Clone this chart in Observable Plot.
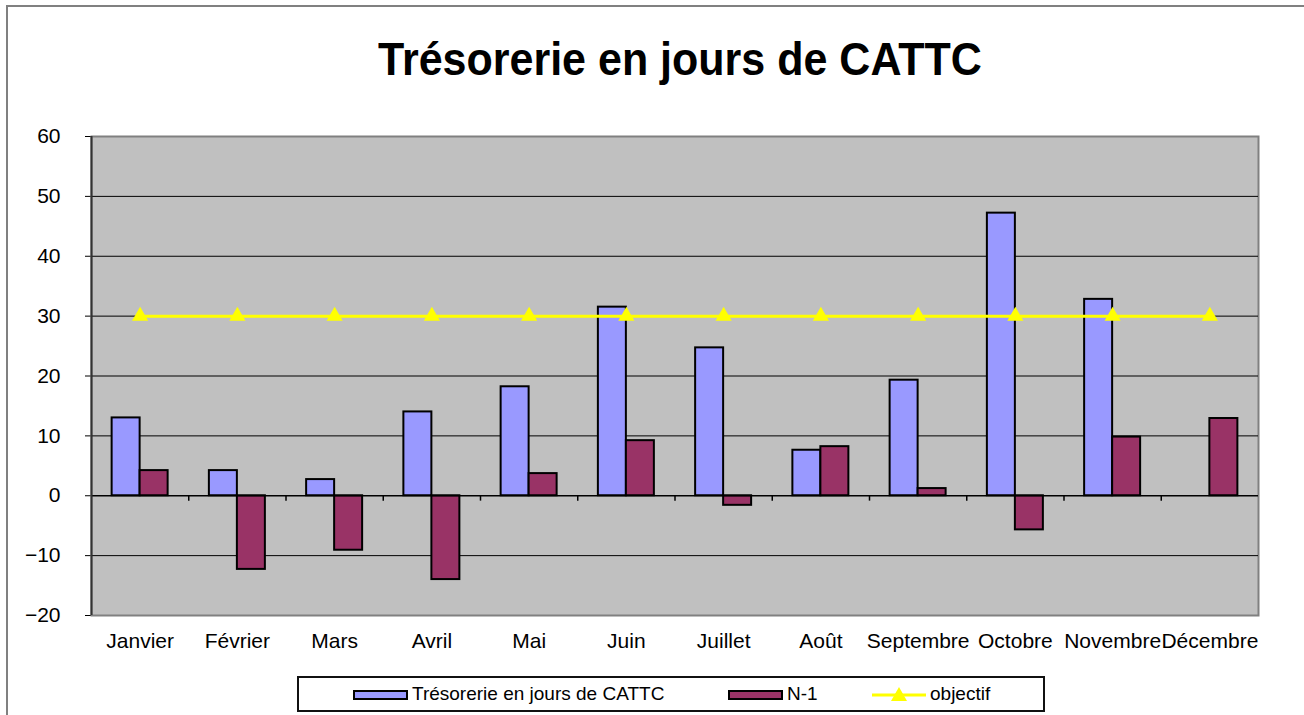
<!DOCTYPE html>
<html><head><meta charset="utf-8">
<script src="https://cdn.jsdelivr.net/npm/d3@7"></script>
<script src="https://cdn.jsdelivr.net/npm/@observablehq/plot@0.6"></script>
<style>
body{margin:0;background:#fff;font-family:"Liberation Sans",Arial,sans-serif;}
#wrap{position:relative;width:1304px;height:715px;overflow:hidden;}
#border{position:absolute;left:6px;top:5px;width:1400px;height:800px;border-left:2px solid #808080;border-top:2px solid #808080;}
#title{position:absolute;left:28px;top:0;width:1304px;height:110px;text-align:center;}
#title span{display:inline-block;font-weight:bold;font-size:47px;line-height:47px;padding-top:35px;transform:scaleX(0.915);transform-origin:center;color:#000;}
#chart{position:absolute;left:0;top:110px;}
#legend{position:absolute;left:297px;top:676px;width:744px;height:32px;border:2px solid #111;background:#fff;}
.sw{position:absolute;top:12px;width:51px;height:6px;border:2px solid #000;}
.lt{position:absolute;top:4px;font-size:19px;line-height:24px;color:#000;white-space:nowrap;}
</style></head>
<body>
<div id="wrap">
  <div id="border"></div>
  <div id="title"><span>Trésorerie en jours de CATTC</span></div>
  <div id="chart"></div>
  <div id="legend"></div>
</div>
<script>
const months = ["Janvier","Février","Mars","Avril","Mai","Juin","Juillet","Août","Septembre","Octobre","Novembre","Décembre"];
const tresorerie = [13, 4.2, 2.7, 14, 18.2, 31.5, 24.7, 7.6, 19.3, 47.2, 32.8, null];
const n1 = [4.2, -12.3, -9.1, -14, 3.7, 9.2, -1.6, 8.2, 1.2, -5.7, 9.8, 12.9];
const objectif = [30, 30, 30, 30, 30, 30, 30, 30, 30, 30, 30, 30];
const yTicks = [-20, -10, 0, 10, 20, 30, 40, 50, 60];
const gridValues = [-10, 10, 20, 30, 40, 50];
const seriesNames = ["Trésorerie en jours de CATTC", "N-1", "objectif"];
const colors = {blue: "#9999FF", red: "#993366", yellow: "#FFFF00"};

const W = 1304, H = 555, mL = 91, mR = 46, mT = 26, mB = 50;
const bw = (W - mL - mR) / months.length;
const barW = 28;

const blueData = months.map((m, i) => ({m, v: tresorerie[i]})).filter(d => d.v != null);
const redData = months.map((m, i) => ({m, v: n1[i]}));
const objData = months.map((m, i) => ({m, v: objectif[i]}));

const chart = Plot.plot({
  width: W, height: H,
  marginLeft: mL, marginRight: mR, marginTop: mT, marginBottom: mB,
  style: {fontSize: "21px", fontFamily: "Liberation Sans, Arial, sans-serif", color: "#000", background: "transparent"},
  x: {domain: months, padding: 0, round: false, tickSize: 0, tickPadding: 18, label: null},
  y: {domain: [-20, 60], ticks: yTicks, tickSize: 6, tickPadding: 25, label: null},
  marks: [
    Plot.frame({fill: "#C0C0C0", stroke: "#808080", strokeWidth: 2}),
    Plot.ruleY(gridValues, {stroke: "#000", strokeWidth: 1}),
    Plot.barY(blueData, {x: "m", y: "v", fill: colors.blue, stroke: "#000", strokeWidth: 2, insetLeft: bw/2 - barW, insetRight: bw/2}),
    Plot.barY(redData, {x: "m", y: "v", fill: colors.red, stroke: "#000", strokeWidth: 2, insetLeft: bw/2, insetRight: bw/2 - barW}),
    Plot.ruleY([0], {stroke: "#000", strokeWidth: 1.5}),
    Plot.ruleX(months.slice(1), {y1: 0, y2: -0.9, dx: -bw/2, stroke: "#000", strokeWidth: 1.5}),
    Plot.ruleX([months[0]], {dx: -bw/2, stroke: "#333", strokeWidth: 2}),
    Plot.lineY(objData, {x: "m", y: "v", stroke: colors.yellow, strokeWidth: 3}),
    Plot.dot(objData, {x: "m", y: "v", symbol: "triangle", r: 6, fill: colors.yellow, stroke: "none"})
  ]
});
document.getElementById("chart").appendChild(chart);

const leg = document.getElementById("legend");
leg.innerHTML = `
  <div class="sw" style="left:54px;background:${colors.blue}"></div>
  <div class="lt" style="left:113px">${seriesNames[0]}</div>
  <div class="sw" style="left:429px;background:${colors.red}"></div>
  <div class="lt" style="left:488px">${seriesNames[1]}</div>
  <svg style="position:absolute;left:573px;top:6px" width="56" height="20">
    <line x1="0" y1="11" x2="54" y2="11" stroke="${colors.yellow}" stroke-width="3"/>
    <path d="M27,3 L35,17 L19,17 Z" fill="${colors.yellow}"/>
  </svg>
  <div class="lt" style="left:631px">${seriesNames[2]}</div>`;
</script>
</body></html>
